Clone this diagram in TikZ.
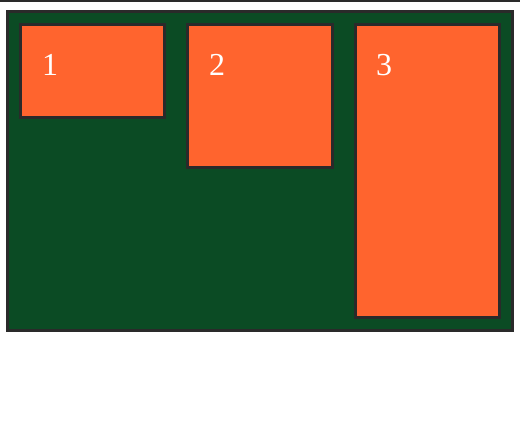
\documentclass[tikz,border=0pt]{standalone}
\usepackage{fontspec}
\setmainfont{Liberation Serif}
\definecolor{bggreen}{HTML}{0B4B24}
\definecolor{boxorange}{HTML}{FF642E}
\definecolor{edgegray}{HTML}{2A2A2A}
\begin{document}
\begin{tikzpicture}[x=1pt,y=-1pt,
  panel/.style={draw=edgegray,line width=3pt,fill=bggreen},
  tile/.style={draw=edgegray,line width=3pt,fill=boxorange},
  num/.style={text=white,font=\fontsize{32}{32}\selectfont,inner sep=0pt,anchor=base west}]
\useasboundingbox (0,0) rectangle (520,438);
\fill[edgegray] (0,0) rectangle (520,2);
\draw[panel] (7.5,11.5) rectangle (512.5,330.5);
\draw[tile] (20.5,24.5) rectangle (164.5,117.5);
\draw[tile] (187.5,24.5) rectangle (332.5,167.5);
\draw[tile] (355.5,24.5) rectangle (499.5,317.5);
\node[num] (n1) at (42,76) {1};
\node[num] (n2) at (209,76) {2};
\node[num] (n3) at (376,76) {3};
\end{tikzpicture}
\end{document}
